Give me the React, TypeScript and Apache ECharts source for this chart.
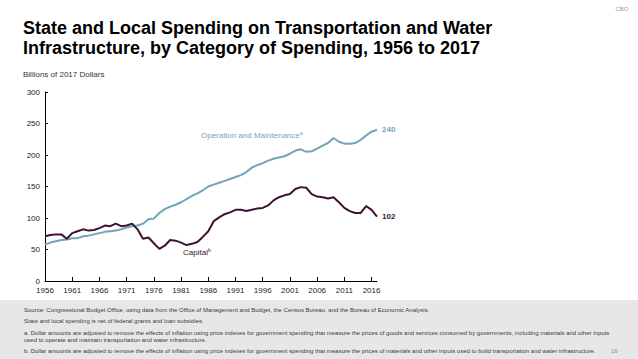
import React, { useEffect, useRef } from "react";
import * as echarts from "echarts";

const years: string[] = [];
for (let y = 1956; y <= 2017; y++) years.push(String(y));

const operationMaintenance = [
  58, 61, 63, 65, 66, 68, 68, 71, 72, 74,
  76, 78, 79, 80, 82, 85, 87, 88, 91, 98,
  99, 108, 114, 118, 121, 125, 130, 135, 139, 144,
  150, 153, 156, 159, 162, 165, 168, 173, 180, 184,
  187, 191, 194, 196, 198, 202, 207, 209, 205, 206,
  210, 215, 219, 227, 221, 218, 218, 219, 224, 231,
  237, 240,
];

const capital = [
  71, 73, 74, 74, 67, 76, 79, 82, 80, 81,
  84, 88, 87, 91, 87, 88, 91, 82, 67, 69,
  60, 51, 56, 65, 64, 61, 57, 59, 62, 70,
  79, 95, 101, 106, 109, 113, 113, 111, 113, 115,
  116, 120, 128, 133, 136, 138, 146, 149, 148, 138,
  134, 133, 131, 133, 125, 116, 111, 108, 108, 119,
  113, 102,
];

const yTicks = { min: 0, max: 300, interval: 50 };

const FONT = "'Liberation Sans', Arial, Helvetica, sans-serif";
const OM_COLOR = "#72a4b7";
const CAP_COLOR = "#3e1234";

const footerLines = [
  "Source: Congressional Budget Office, using data from the Office of Management and Budget, the Census Bureau, and the Bureau of Economic Analysis.",
  "State and local spending is net of federal grants and loan subsidies.",
  "a. Dollar amounts are adjusted to remove the effects of inflation using price indexes for government spending that measure the prices of goods and services consumed by governments, including materials and other inputs",
  "used to operate and maintain transportation and water infrastructure.",
  "b. Dollar amounts are adjusted to remove the effects of inflation using price indexes for government spending that measure the prices of materials and other inputs used to build transportation and water infrastructure.",
];
const footerY = [310, 321, 333, 340, 351];

export default function App() {
  const ref = useRef<HTMLDivElement>(null);
  useEffect(() => {
    if (!ref.current) return;
    const chart = echarts.init(ref.current, undefined, { renderer: "svg" });
    const graphics: any[] = [
      {
        type: "rect",
        shape: { x: 0, y: 300, width: 638, height: 59 },
        style: { fill: "#e7e7e7" },
        silent: true,
        z: -10,
      },
      {
        type: "text",
        x: 622,
        y: 9,
        style: { text: "CBO", font: `6px ${FONT}`, fill: "#9a9a9a", align: "center", verticalAlign: "middle" },
      },
      {
        type: "text",
        x: 23,
        y: 28,
        style: {
          text: "State and Local Spending on Transportation and Water",
          font: `bold 18px ${FONT}`,
          fill: "#000",
          verticalAlign: "middle",
        },
      },
      {
        type: "text",
        x: 23,
        y: 48,
        style: {
          text: "Infrastructure, by Category of Spending, 1956 to 2017",
          font: `bold 18px ${FONT}`,
          fill: "#000",
          verticalAlign: "middle",
        },
      },
      {
        type: "text",
        x: 23,
        y: 74,
        style: { text: "Billions of 2017 Dollars", font: `8px ${FONT}`, fill: "#333", verticalAlign: "middle" },
      },
      {
        type: "text",
        x: 201,
        y: 135,
        style: {
          text: "{t|Operation and Maintenance}{s|a}",
          rich: {
            t: { font: `8px ${FONT}`, fill: OM_COLOR, fontSize: 8 },
            s: { font: `5px ${FONT}`, fill: OM_COLOR, fontSize: 5, verticalAlign: "top", padding: [0, 0, 4, 0] },
          },
          verticalAlign: "middle",
        },
      },
      {
        type: "text",
        x: 183,
        y: 252,
        style: {
          text: "{t|Capital}{s|b}",
          rich: {
            t: { font: `8px ${FONT}`, fill: CAP_COLOR, fontSize: 8 },
            s: { font: `5px ${FONT}`, fill: CAP_COLOR, fontSize: 5, padding: [0, 0, 4, 0] },
          },
          verticalAlign: "middle",
        },
      },
      {
        type: "text",
        x: 611,
        y: 351,
        style: { text: "16", font: `6px ${FONT}`, fill: "#888", verticalAlign: "middle" },
      },
    ];
    footerLines.forEach((t, i) => {
      graphics.push({
        type: "text",
        x: 24,
        y: footerY[i],
        style: { text: t, font: `6px ${FONT}`, fill: "#3a3a3a", verticalAlign: "middle" },
      });
    });

    chart.setOption({
      animation: false,
      backgroundColor: "#fff",
      grid: { left: 45, right: 261, top: 92, bottom: 78, containLabel: false },
      xAxis: {
        type: "category",
        data: years,
        boundaryGap: false,
        axisLine: { show: true, lineStyle: { color: "#000", width: 1 } },
        axisTick: { show: true, inside: true, length: 4, interval: 4, lineStyle: { color: "#000" } },
        axisLabel: { interval: 4, fontSize: 8, color: "#222", fontFamily: FONT, margin: 5 },
        splitLine: { show: false },
      },
      yAxis: {
        type: "value",
        min: yTicks.min,
        max: yTicks.max,
        interval: yTicks.interval,
        axisLine: { show: true, lineStyle: { color: "#000", width: 1 } },
        axisTick: { show: true, inside: true, length: 3, lineStyle: { color: "#000" } },
        axisLabel: { fontSize: 8, color: "#222", fontFamily: FONT, margin: 5 },
        splitLine: { show: false },
      },
      series: [
        {
          name: "Operation and Maintenance",
          type: "line",
          data: operationMaintenance,
          showSymbol: false,
          symbol: "none",
          lineStyle: { color: OM_COLOR, width: 2 },
          itemStyle: { color: OM_COLOR },
          endLabel: {
            show: true,
            formatter: "{c}",
            fontSize: 8,
            fontWeight: "bold",
            color: OM_COLOR,
            fontFamily: FONT,
            distance: 5,
          },
        },
        {
          name: "Capital",
          type: "line",
          data: capital,
          showSymbol: false,
          symbol: "none",
          lineStyle: { color: CAP_COLOR, width: 2 },
          itemStyle: { color: CAP_COLOR },
          endLabel: {
            show: true,
            formatter: "{c}",
            fontSize: 8,
            fontWeight: "bold",
            color: CAP_COLOR,
            fontFamily: FONT,
            distance: 5,
          },
        },
      ],
      graphic: graphics,
    });
    return () => chart.dispose();
  }, []);
  return (
    <div
      ref={ref}
      style={{ position: "absolute", left: 0, top: 0, width: 638, height: 359, background: "#fff" }}
    />
  );
}
